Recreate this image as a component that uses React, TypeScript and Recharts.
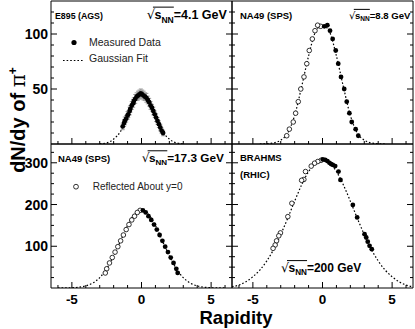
import { ComposedChart, ErrorBar, Line, Scatter, XAxis, YAxis } from "recharts";

const FONT = "'Liberation Sans', Arial, Helvetica, sans-serif";
const W = 415;
const H = 329;

// axis ticks
const rapidityTicks = [-6, -5, -4, -3, -2, -1, 0, 1, 2, 3, 4, 5, 6];
const topYieldTicks = [10, 20, 30, 40, 50, 60, 70, 80, 90, 100, 110, 120];
const bottomYieldTicks = [25, 50, 75, 100, 125, 150, 175, 200, 225, 250, 275, 300, 325];

// E895 (AGS) 4.1 GeV
const e895Rapidity = [-1.35, -1.25, -1.2, -1.1, -1.0, -0.95, -0.85, -0.8, -0.7, -0.6, -0.55, -0.45, -0.35, -0.25, -0.15, -0.05, 0.05, 0.15, 0.25, 0.35, 0.45, 0.55, 0.65, 0.75, 0.85, 0.95, 1.05, 1.15, 1.25, 1.35, 1.45, 1.55];
const e895Yield = [16, 19, 21, 23, 26, 27, 30, 32, 35, 37, 39, 41, 43, 44, 45, 46, 45, 44, 43, 42, 40, 38, 35, 33, 30, 27, 24, 21, 18, 15, 12, 10];
const e895Err = [3, 3, 3.5, 3, 3.5, 3, 3.5, 3, 3.5, 3.5, 3, 4, 3.5, 4, 4, 4, 4, 4, 3.5, 4, 3.5, 3.5, 3.5, 3, 3.5, 3, 3.5, 3, 3, 3, 2.5, 2.5];
const e895FitRapidity = [-3, -2.5, -2, -1.5, -1.25, -1, -0.75, -0.5, -0.25, 0, 0.25, 0.5, 0.75, 1, 1.25, 1.5, 2, 2.5, 3];
const e895FitYield = [0.2, 1, 4.5, 11.5, 17.5, 24, 31.5, 38.5, 44, 46, 44, 38.5, 31.5, 24, 17.5, 11.5, 4.5, 1, 0.2];

// NA49 (SPS) 8.8 GeV
const na49lowRapidity = [0.13, 0.35, 0.54, 0.73, 0.95, 1.13, 1.33, 1.56, 1.74, 1.93, 2.1, 2.38, 2.57];
const na49lowYield = [107, 108, 103, 95.5, 85, 73, 61, 50, 38.5, 28, 20, 13.5, 7.5];
const na49lowReflRapidity = [-0.13, -0.35, -0.54, -0.73, -0.95, -1.13, -1.33, -1.56, -1.74, -1.93, -2.1, -2.38, -2.57];
const na49lowFitRapidity = [-4.5, -4, -3.5, -3, -2.5, -2, -1.5, -1, -0.5, 0, 0.5, 1, 1.5, 2, 2.5, 3, 3.5, 4, 4.5];
const na49lowFitYield = [0, 0.3, 1, 3.5, 10, 26, 52, 80, 102, 108, 102, 80, 52, 26, 10, 3.5, 1, 0.3, 0];

// NA49 (SPS) 17.3 GeV
const na49highRapidity = [0.1, 0.3, 0.5, 0.7, 0.9, 1.1, 1.3, 1.5, 1.7, 1.9, 2.1, 2.3, 2.5, 2.6];
const na49highYield = [186, 181, 172, 163, 152, 140, 127, 113, 99, 86, 73, 60, 46, 36];
const na49highReflRapidity = [-0.1, -0.3, -0.5, -0.7, -0.9, -1.1, -1.3, -1.5, -1.7, -1.9, -2.1, -2.3, -2.5, -2.6];
const na49highFitRapidity = [-6, -5.5, -5, -4.5, -4, -3.5, -3, -2.5, -2, -1.5, -1, -0.5, 0, 0.5, 1, 1.5, 2, 2.5, 3, 3.5, 4, 4.5, 5, 5.5, 6];
const na49highFitYield = [0.06, 0.2, 0.7, 1.9, 5.1, 11.9, 24.9, 46.5, 77, 113, 150, 177, 187, 177, 150, 113, 77, 46.5, 24.9, 11.9, 5.1, 1.9, 0.7, 0.2, 0.06];

// BRAHMS (RHIC) 200 GeV
const brahmsRapidity = [0.02, 0.19, 0.35, 0.5, 0.62, 0.74, 0.91, 1.15, 1.29, 2.18, 2.49, 3.02, 3.14, 3.25, 3.38, 3.54];
const brahmsYield = [308, 307, 304, 300, 297, 295, 292, 279, 259, 199, 169, 129, 121, 111, 101, 93];
const brahmsReflRapidity = [-0.1, -0.34, -0.57, -0.81, -1.22, -1.34, -1.5, -2.2, -2.49, -3.02, -3.14, -3.3, -3.4, -3.55];
const brahmsReflYield = [306, 303, 299, 292, 279, 260, 258, 203, 171, 132, 125, 113, 103, 95];
const brahmsFitRapidity = [-6.5, -6, -5.5, -5, -4.5, -4, -3.5, -3, -2.5, -2, -1.5, -1, -0.5, 0, 0.5, 1, 1.5, 2, 2.5, 3, 3.5, 4, 4.5, 5, 5.5, 6, 6.5];
const brahmsFitYield = [3, 7, 15, 27, 43, 65, 93, 128, 167, 208, 247, 279, 299, 306, 299, 279, 247, 208, 167, 128, 93, 65, 43, 27, 15, 7, 3];

type Pt = { r: number; v: number; err?: number };
const zip = (rs: number[], vs: number[], es?: number[]): Pt[] =>
  rs.map((r, i) => ({ r, v: vs[i], err: es ? es[i] : 0 }));

const dot = (p: any) => <circle cx={p.cx} cy={p.cy} r={2.4} fill="#000" />;
const ring = (p: any) => <circle cx={p.cx} cy={p.cy} r={2.3} fill="#fff" stroke="#000" strokeWidth={0.8} />;

function xTick(side: "bottom" | "top", labels: boolean) {
  return (p: any) => {
    const val = p.payload.value;
    const major = val % 5 === 0;
    const dir = side === "bottom" ? -1 : 1;
    return (
      <g>
        <line x1={p.x} x2={p.x} y1={p.y} y2={p.y + dir * (major ? 6 : 3)} stroke="#000" />
        {labels && major && (
          <text x={p.x} y={p.y + 15.5} textAnchor="middle" fontFamily={FONT} fontWeight="bold" fontSize={13.5} fill="#000">
            {String(val)}
          </text>
        )}
      </g>
    );
  };
}

function yTick(side: "left" | "right", step: number, labels: boolean) {
  return (p: any) => {
    const val = p.payload.value;
    const major = val % step === 0;
    const dir = side === "left" ? 1 : -1;
    return (
      <g>
        <line x1={p.x} x2={p.x + dir * (major ? 6 : 3)} y1={p.y} y2={p.y} stroke="#000" />
        {labels && major && (
          <text x={p.x - 3} y={p.y + 5} textAnchor="end" fontFamily={FONT} fontWeight="bold" fontSize={14} fill="#000">
            {String(val)}
          </text>
        )}
      </g>
    );
  };
}

interface PanelProps {
  margin: { top: number; left: number; right: number; bottom: number };
  yMax: number;
  yTicks: number[];
  yStep: number;
  xLabels: boolean;
  yLabels: boolean;
  fit: Pt[];
  filled: Pt[];
  open?: Pt[];
  errors?: boolean;
}

// each panel is a full-size chart whose plot area is placed by the margins (axes are 1px thick)
function Panel({ margin, yMax, yTicks, yStep, xLabels, yLabels, fit, filled, open, errors }: PanelProps) {
  return (
    <div style={{ position: "absolute", left: 0, top: 0 }}>
      <ComposedChart width={W} height={H} margin={margin}>
        <XAxis type="number" dataKey="r" domain={[-6.5, 6.5]} ticks={rapidityTicks} interval={0} height={1} tickSize={0} tickMargin={0}
          allowDataOverflow tickLine={false} axisLine={{ stroke: "#000" }} tick={xTick("bottom", xLabels)} />
        <XAxis xAxisId="top" orientation="top" type="number" domain={[-6.5, 6.5]} ticks={rapidityTicks} interval={0} height={1} tickSize={0}
          tickMargin={0} allowDataOverflow tickLine={false} axisLine={{ stroke: "#000" }} tick={xTick("top", false)} />
        <YAxis type="number" dataKey="v" domain={[0, yMax]} ticks={yTicks} interval={0} width={1} tickSize={0} tickMargin={0}
          allowDataOverflow tickLine={false} axisLine={{ stroke: "#000" }} tick={yTick("left", yStep, yLabels)} />
        <YAxis yAxisId="right" orientation="right" type="number" domain={[0, yMax]} ticks={yTicks} interval={0} width={1} tickSize={0}
          tickMargin={0} allowDataOverflow tickLine={false} axisLine={{ stroke: "#000" }} tick={yTick("right", yStep, false)} />
        <Line data={fit} dataKey="v" type="monotone" stroke="#000" strokeWidth={1.2} strokeDasharray="1.6 2" dot={false}
          isAnimationActive={false} />
        {open && <Scatter data={open} dataKey="v" shape={ring} isAnimationActive={false} />}
        <Scatter data={filled} dataKey="v" shape={dot} isAnimationActive={false}>
          {errors && <ErrorBar dataKey="err" direction="y" width={2} stroke="#999" strokeWidth={1} />}
        </Scatter>
      </ComposedChart>
    </div>
  );
}

function Sqrt({ x, y, fs, energy }: { x: number; y: number; fs: number; energy: string }) {
  const sx = x + 0.62 * fs;
  const lineEnd = sx + 1.55 * fs;
  return (
    <g>
      <text x={x} y={y} fontFamily={FONT} fontWeight="bold" fontSize={fs} fill="#000">
        <tspan fontFamily="'DejaVu Sans'" fontWeight="normal" fontSize={fs * 1.05}>√</tspan>
        <tspan x={sx}>s</tspan>
        <tspan fontSize={fs * 0.68} dy={fs * 0.28}>NN</tspan>
        <tspan dy={-fs * 0.28}>={energy}</tspan>
      </text>
      <line x1={x + 0.5 * fs} x2={lineEnd} y1={y - 0.95 * fs} y2={y - 0.95 * fs} stroke="#000" strokeWidth={1} />
    </g>
  );
}

export default function App() {
  const lbl = { fontFamily: FONT, fontWeight: "bold" as const, fill: "#000" };
  return (
    <div style={{ position: "absolute", left: 0, top: 0, width: W, height: H, background: "#fff" }}>
      <Panel margin={{ top: 0, left: 50, right: 182, bottom: 184 }} yMax={130} yTicks={topYieldTicks} yStep={50} xLabels={false}
        yLabels fit={zip(e895FitRapidity, e895FitYield)} filled={zip(e895Rapidity, e895Yield, e895Err)} errors />
      <Panel margin={{ top: 0, left: 231, right: 1, bottom: 184 }} yMax={130} yTicks={topYieldTicks} yStep={50} xLabels={false}
        yLabels={false} fit={zip(na49lowFitRapidity, na49lowFitYield)} filled={zip(na49lowRapidity, na49lowYield)}
        open={zip(na49lowReflRapidity, na49lowYield)} />
      <Panel margin={{ top: 143, left: 50, right: 182, bottom: 40 }} yMax={345} yTicks={bottomYieldTicks} yStep={100} xLabels
        yLabels fit={zip(na49highFitRapidity, na49highFitYield)} filled={zip(na49highRapidity, na49highYield)}
        open={zip(na49highReflRapidity, na49highYield)} />
      <Panel margin={{ top: 143, left: 231, right: 1, bottom: 40 }} yMax={345} yTicks={bottomYieldTicks} yStep={100} xLabels
        yLabels={false} fit={zip(brahmsFitRapidity, brahmsFitYield)} filled={zip(brahmsRapidity, brahmsYield)}
        open={zip(brahmsReflRapidity, brahmsReflYield)} />
      <svg width={W} height={H} style={{ position: "absolute", left: 0, top: 0, pointerEvents: "none" }}>
        <text x={55} y={18.5} fontSize={8.8} {...lbl}>E895 (AGS)</text>
        <Sqrt x={146.7} y={19} fs={12.5} energy="4.1 GeV" />
        <circle cx={74} cy={42.5} r={2.6} fill="#000" />
        <text x={89} y={45.7} fontFamily={FONT} fontSize={10.5} fill="#222">Measured Data</text>
        <line x1={63} x2={83} y1={60.5} y2={60.5} stroke="#000" strokeWidth={1.2} strokeDasharray="1.6 2" />
        <text x={89} y={61.7} fontFamily={FONT} fontSize={10.5} fill="#222">Gaussian Fit</text>

        <text x={240} y={18.5} fontSize={9.5} {...lbl}>NA49 (SPS)</text>
        <Sqrt x={349} y={18.5} fs={9.6} energy="8.8 GeV" />

        <text x={58} y={161.5} fontSize={9.5} {...lbl}>NA49 (SPS)</text>
        <Sqrt x={141.7} y={162} fs={11.8} energy="17.3 GeV" />
        <circle cx={76} cy={186.7} r={2.4} fill="#fff" stroke="#000" strokeWidth={0.8} />
        <text x={92.7} y={190} fontFamily={FONT} fontSize={10} fill="#222">Reflected About y=0</text>

        <text x={240} y={161} fontSize={9.5} {...lbl}>BRAHMS</text>
        <text x={240} y={178} fontSize={9.5} {...lbl}>(RHIC)</text>
        <Sqrt x={281} y={272} fs={12} energy="200 GeV" />

        <text x={25} y={120} transform="rotate(-90, 25, 120)" textAnchor="middle" fontSize={20} {...lbl}>
          dN/dy of <tspan fontFamily="'DejaVu Serif', serif" fontWeight="normal">π</tspan>
          <tspan fontSize={12} dy={-8}>+</tspan>
        </text>
        <text x={236} y={323.5} textAnchor="middle" fontSize={18.5} {...lbl}>Rapidity</text>
      </svg>
    </div>
  );
}
